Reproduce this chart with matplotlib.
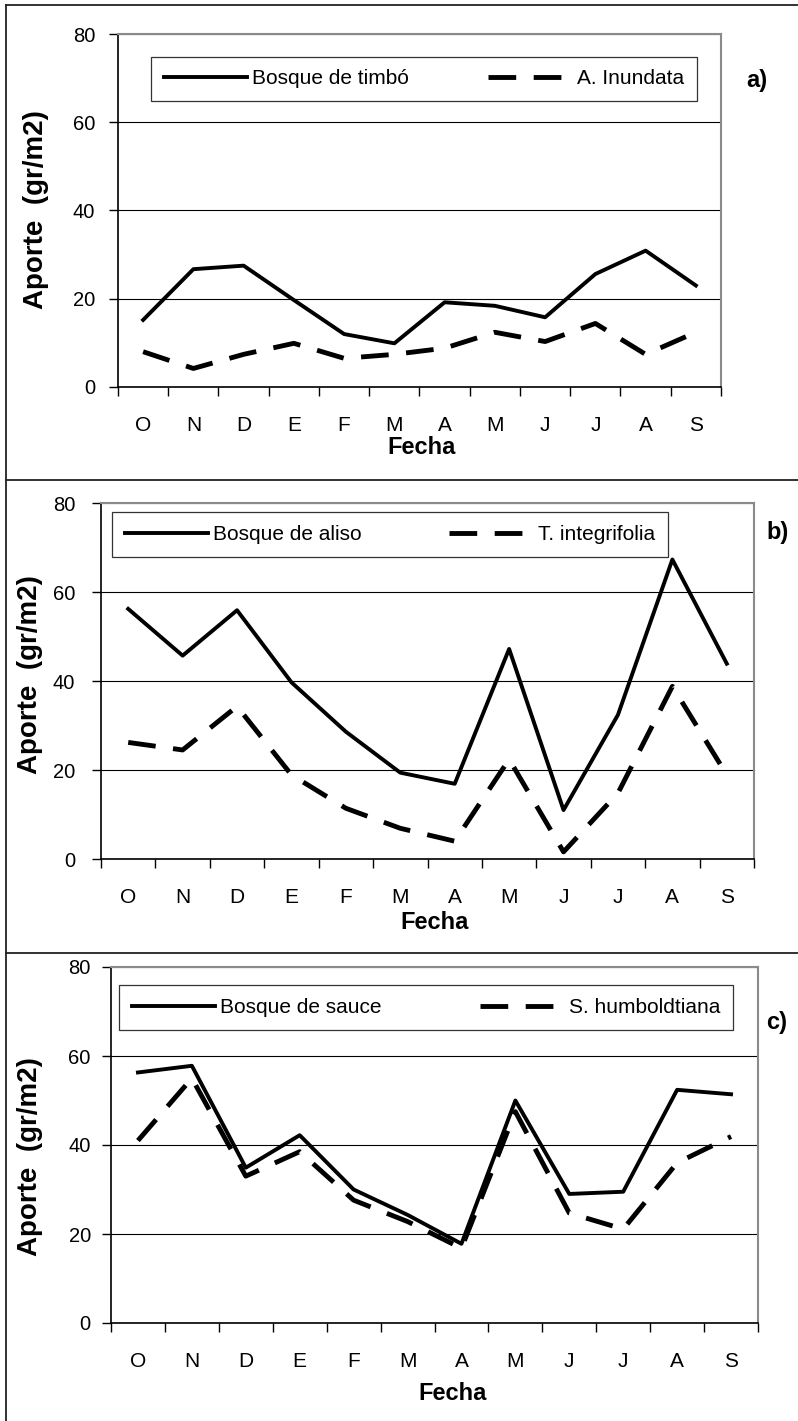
import numpy as np
import matplotlib
matplotlib.use("Agg")
import matplotlib.pyplot as plt
from matplotlib.lines import Line2D

plt.rcParams['font.family'] = ['Liberation Sans', 'DejaVu Sans']

W, H = 798, 1421

meses = ["O", "N", "D", "E", "F", "M", "A", "M", "J", "J", "A", "S"]
yticks = [0, 20, 40, 60, 80]

# a) bosque de timbo
timbo = [15.2, 26.7, 27.5, 19.7, 12.0, 9.9, 19.2, 18.4, 15.8, 25.6, 30.9, 23.0]
inundata = [8.0, 4.2, 7.4, 9.9, 6.5, 7.4, 8.8, 12.4, 10.3, 14.4, 7.4, 12.4]

# b) bosque de aliso
aliso = [56.2, 45.7, 55.9, 39.7, 28.6, 19.4, 16.9, 47.2, 11.0, 32.4, 67.3, 43.9]
integrifolia = [26.2, 24.5, 34.3, 18.9, 11.4, 6.9, 4.0, 22.4, 1.6, 14.8, 38.8, 18.9]

# c) bosque de sauce
sauce = [56.3, 57.8, 34.9, 42.2, 30.0, 24.3, 17.8, 50.0, 29.0, 29.5, 52.4, 51.4]
humboldtiana = [41.0, 55.0, 33.0, 38.5, 27.6, 22.8, 16.8, 47.5, 24.7, 21.1, 36.0, 41.9]

paneles = [
    dict(serie1=timbo, serie2=inundata, nom1="Bosque de timbó", nom2="A. Inundata",
         letra="a)", ax_px=(118, 34, 721, 387), leg_px=(151, 54, 697, 104),
         letra_px=(746, 80), ylab_px=(36, 210), xlab_px=(422, 448), pad=10),
    dict(serie1=aliso, serie2=integrifolia, nom1="Bosque de aliso", nom2="T. integrifolia",
         letra="b)", ax_px=(101, 503, 754, 859), leg_px=(112, 510, 668, 559),
         letra_px=(766, 532), ylab_px=(30, 675), xlab_px=(435, 922), pad=12),
    dict(serie1=sauce, serie2=humboldtiana, nom1="Bosque de sauce", nom2="S. humboldtiana",
         letra="c)", ax_px=(111, 967, 758, 1323), leg_px=(119, 983, 733, 1032),
         letra_px=(766, 1022), ylab_px=(30, 1157), xlab_px=(453, 1393), pad=8),
]

fig = plt.figure(figsize=(W / 100, H / 100), dpi=100)


def frac_box(l, t, r, b):
    return [l / W, 1 - b / H, (r - l) / W, (b - t) / H]


x = np.arange(len(meses))

for p in paneles:
    l, t, r, b = p["ax_px"]
    ax = fig.add_axes(frac_box(l, t, r, b))
    ax.plot(x, p["serie1"], color="black", lw=2.8, solid_joinstyle="round",
            label=p["nom1"], zorder=3)
    ax.plot(x, p["serie2"], color="black", lw=3.5, dashes=(5.7, 3.6),
            label=p["nom2"], zorder=3)

    ax.set_xlim(-0.5, len(meses) - 0.5)
    ax.set_ylim(0, 80)
    ax.set_yticks(yticks)
    ax.tick_params(axis="y", direction="out", length=6.5, width=1, pad=p["pad"],
                   labelsize=14.5)
    ax.set_xticks(x, meses)
    ax.set_xticks(np.arange(-0.5, len(meses)), minor=True)
    ax.tick_params(axis="x", which="major", length=0, pad=21, labelsize=15)
    ax.tick_params(axis="x", which="minor", direction="out", length=6.5, width=1)
    ax.grid(axis="y", color="black", lw=0.8, zorder=1)

    for s in ["left", "bottom"]:
        ax.spines[s].set_color("black")
        ax.spines[s].set_linewidth(1.2)
    for s in ["top", "right"]:
        ax.spines[s].set_color("#8a8a8a")
        ax.spines[s].set_linewidth(1.5)

    aw, ah = r - l, b - t
    ax.set_xlabel("Fecha", fontsize=17, fontweight="bold", va="center")
    ax.xaxis.set_label_coords((p["xlab_px"][0] - l) / aw, (b - p["xlab_px"][1]) / ah)
    ax.set_ylabel("Aporte  (gr/m2)", fontsize=20, fontweight="bold", va="center", ha="center")
    ax.yaxis.set_label_coords((p["ylab_px"][0] - l) / aw, (b - p["ylab_px"][1]) / ah)

    ll, lt, lr, lb = p["leg_px"]
    leg = ax.legend(loc="center", ncol=2, mode="expand", fontsize=15,
                    bbox_to_anchor=frac_box(ll, lt, lr, lb), bbox_transform=fig.transFigure,
                    borderaxespad=0, borderpad=0.62, handlelength=4.0, handletextpad=0.25,
                    columnspacing=0.8, fancybox=False, framealpha=1)
    leg.get_frame().set_edgecolor("#333333")
    leg.get_frame().set_linewidth(0.9)

    fig.text(p["letra_px"][0] / W, 1 - p["letra_px"][1] / H, p["letra"],
             fontsize=17, fontweight="bold", ha="left", va="center")

# marco exterior y separadores
borde = dict(color="#222222", lw=1.3, transform=fig.transFigure)
fig.add_artist(Line2D([6 / W, 1], [1 - 5 / H, 1 - 5 / H], **borde))
fig.add_artist(Line2D([6 / W, 6 / W], [0, 1 - 5 / H], **borde))
for yy in [480, 953]:
    fig.add_artist(Line2D([6 / W, 1], [1 - yy / H, 1 - yy / H], **borde))

fig.savefig("out.png", dpi=100)
